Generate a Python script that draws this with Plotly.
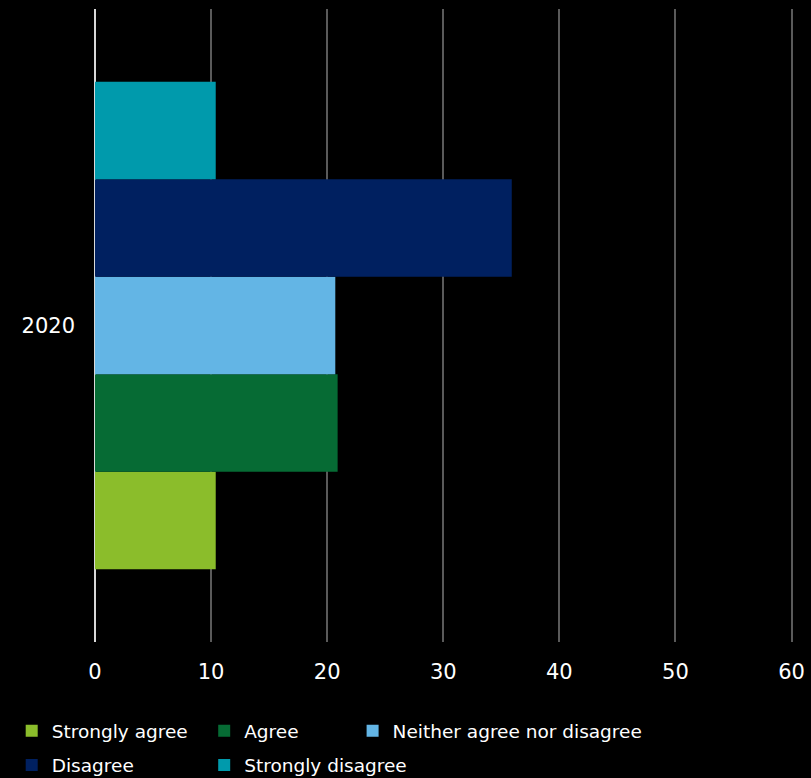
import plotly.graph_objects as go

# Survey responses for 2020 (share of respondents, %)
categories = ["2020"]
responses = ["Strongly agree", "Agree", "Neither agree nor disagree", "Disagree", "Strongly disagree"]
values = [10.4, 20.9, 20.7, 35.9, 10.4]
colors = ["#8BBD2B", "#066B34", "#63B5E5", "#002060", "#009AAC"]
x_ticks = [0, 10, 20, 30, 40, 50, 60]

# legend placement for each response (fractions of the plot area)
legend_pos = [(-0.119, -0.111), (0.156, -0.111), (0.368, -0.111), (-0.119, -0.165), (0.156, -0.165)]

fig = go.Figure()
for i, (name, val, col) in enumerate(zip(responses, values, colors)):
    fig.add_trace(go.Bar(
        y=categories, x=[val], name=name, orientation="h",
        marker=dict(color=col, line=dict(width=0)),
        legend="legend" if i == 0 else f"legend{i + 1}",
    ))

font = dict(family="DejaVu Sans, Verdana, sans-serif", color="#FFFFFF")
layout_legends = {}
for i, (lx, ly) in enumerate(legend_pos):
    key = "legend" if i == 0 else f"legend{i + 1}"
    layout_legends[key] = dict(
        x=lx, y=ly, xanchor="left", yanchor="top", xref="paper", yref="paper",
        bgcolor="rgba(0,0,0,0)", font=dict(size=18.5, **font), itemwidth=30,
    )

fig.update_layout(
    width=811, height=778,
    paper_bgcolor="#000000", plot_bgcolor="#000000",
    margin=dict(l=95, r=16, t=9, b=136, autoexpand=False),
    barmode="group", bargap=0.23, bargroupgap=0,
    showlegend=True,
    font=dict(size=18, **font),
    xaxis=dict(
        range=[0, 60.3], tickvals=x_ticks, showgrid=True, gridcolor="#5A5A5A", gridwidth=2,
        zeroline=True, zerolinecolor="#D9D9D9", zerolinewidth=2,
        showline=False, ticks="", tickfont=dict(size=21, **font), ticklabelstandoff=15,
    ),
    yaxis=dict(
        showgrid=False, zeroline=False, showline=False, ticks="",
        tickfont=dict(size=21, **font), ticklabelstandoff=19,
    ),
    **layout_legends,
)

fig.write_html("out.html")
